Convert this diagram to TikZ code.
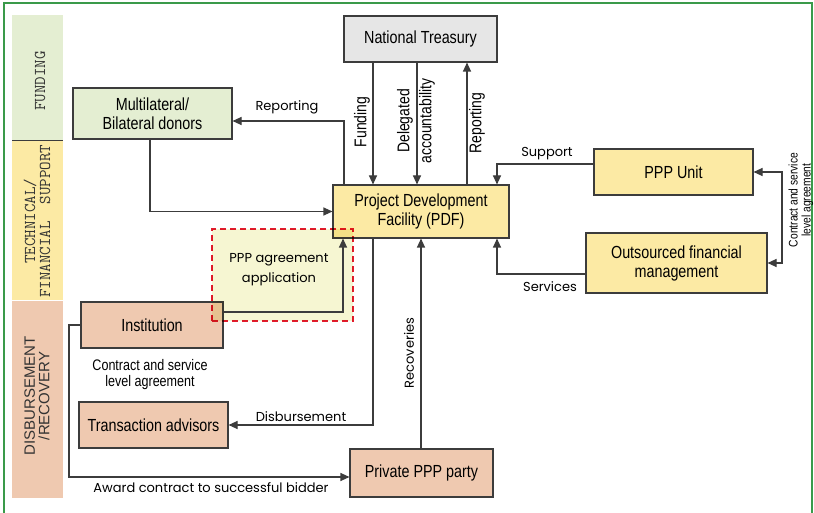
\documentclass[tikz,border=0pt]{standalone}
\usepackage{fontspec}
\usetikzlibrary{arrows.meta}
\newfontfamily\narrowfont[FakeStretch=0.82]{Liberation Sans}
\newfontfamily\plainsans{Liberation Sans}
\newfontfamily\geofont{Poppins}
\definecolor{fundfill}{HTML}{E4EED2}
\definecolor{techfill}{HTML}{FCEAA4}
\definecolor{disbfill}{HTML}{EFC9B0}
\definecolor{treasfill}{HTML}{E6E6E6}
\definecolor{apfill}{HTML}{F6F6D2}
\definecolor{edge}{HTML}{3C3C3C}
\definecolor{framegreen}{HTML}{3A9A4A}
\definecolor{dashred}{HTML}{E31B2D}
\definecolor{bandtext}{HTML}{333333}
\begin{document}
\begin{tikzpicture}[x=1pt,y=-1pt,
  box/.style={draw=edge, line width=1.1pt, align=center, inner sep=0pt,
    font=\narrowfont\fontsize{17.5}{19}\selectfont},
  arr/.style={draw=edge, line width=1.1pt, -{Triangle[length=9pt,width=8pt]}},
  biarr/.style={draw=edge, line width=1.1pt,
    {Triangle[length=9pt,width=8pt]}-{Triangle[length=9pt,width=8pt]}},
  geolbl/.style={font=\geofont\fontsize{13}{15}\selectfont, inner sep=0pt},
  vlbl/.style={font=\narrowfont\fontsize{17}{22}\selectfont, inner sep=0pt, rotate=90},
  bandlbl/.style={font=\ttfamily\fontsize{16.5}{16}\selectfont, text=bandtext, inner sep=0pt, rotate=90},
  bandsans/.style={font=\plainsans\fontsize{15}{14.5}\selectfont, text=bandtext, inner sep=0pt, rotate=90, align=center}
]
\useasboundingbox (0,0) rectangle (814,513);
\fill[white] (0,0) rectangle (814,513);
\draw[framegreen, line width=1.5pt] (4,530) -- (4,3) -- (812,3) -- (812,530);

% side bands
\fill[fundfill] (12,15) rectangle (63,141);
\fill[techfill] (12,141) rectangle (63,300);
\fill[disbfill] (12,301) rectangle (63,498);
\draw[edge, line width=1pt] (12,141) -- (63,141);
\node[bandlbl] (bandfund) at (40,81) {FUNDING};
\begin{scope}
  \clip (12,141) rectangle (63,300);
  \node[bandlbl, anchor=west] (bandtech) at (30,264) {TECHNICAL/};
  \node[bandlbl, anchor=west] (bandfin) at (45,298) {FINANCIAL\ \ SUPPORT};
\end{scope}
\node[bandsans] (banddisb) at (37,396) {DISBURSEMENT\\/RECOVERY};

% boxes
\node[box, fill=treasfill, minimum width=153pt, minimum height=46pt] (treasury) at (420.5,39) {National Treasury};
\node[box, fill=fundfill, minimum width=159pt, minimum height=51pt] (donor) at (152.5,113.5) {Multilateral/\\Bilateral donors};
\node[box, fill=techfill, minimum width=176pt, minimum height=53pt] (pdf) at (421,211.5) {Project Development\\Facility (PDF)};
\node[box, fill=techfill, minimum width=159pt, minimum height=46pt] (pppunit) at (673.5,172) {PPP Unit};
\node[box, fill=techfill, minimum width=181pt, minimum height=60pt] (outsourced) at (676.5,263) {Outsourced financial\\management};
\node[box, fill=disbfill, minimum width=142pt, minimum height=46pt] (institution) at (152,325) {Institution};
\node[box, fill=disbfill, minimum width=149pt, minimum height=46pt] (transaction) at (153.5,425) {Transaction advisors};
\node[box, fill=disbfill, minimum width=143pt, minimum height=48pt] (private) at (421.5,473) {Private PPP party};

% highlighted application area
\begin{scope}[blend mode=multiply]
  \node[draw=dashred, line width=2.8pt, dash pattern=on 6pt off 4pt, fill=apfill,
    minimum width=141pt, minimum height=92pt, inner sep=0pt] (application) at (282.5,275) {};
\end{scope}
\node[geolbl, align=center, font=\geofont\fontsize{13}{20}\selectfont] (applbl) at (279,270) {PPP agreement\\application};

% connectors
\draw[arr] (pdf.north -| 344,0) -- (344,121) -- (donor.east |- 0,121);
\draw[arr] (donor.south -| 150,0) |- (pdf.west);
\draw[arr] (treasury.south -| 373,0) -- (pdf.north -| 373,0);
\draw[arr] (treasury.south -| 417,0) -- (pdf.north -| 417,0);
\draw[arr] (pdf.north -| 467,0) -- (treasury.south -| 467,0);
\draw[arr] (pppunit.west |- 0,164) -| (pdf.north -| 497,0);
\draw[arr] (outsourced.west |- 0,274) -| (pdf.south -| 497,0);
\draw[biarr] (pppunit.east) -| (782,217) |- (outsourced.east);
\draw[arr] (pdf.south -| 373,0) |- (transaction.east);
\draw[arr] (private.north -| 421,0) -- (pdf.south -| 421,0);
\draw[arr] (institution.west) -| (69,400) |- (private.west |- 0,477);
\draw[arr] (institution.east |- 0,312) -| (pdf.south -| 343,0);

% connector labels
\node[geolbl] (lblrepdonor) at (287,107) {Reporting};
\node[vlbl] (lblfunding) at (362,122) {Funding};
\node[vlbl] (lbldelegated) at (405,121) {Delegated};
\node[vlbl] (lblaccount) at (427,121) {accountability};
\node[vlbl] (lblreptreas) at (477,123) {Reporting};
\node[geolbl] (lblsupport) at (547,154) {Support};
\node[geolbl] (lblservices) at (550,287) {Services};
\node[font=\narrowfont\fontsize{12.5}{13}\selectfont, inner sep=0pt, rotate=90, align=center] (lblslaright) at (801,200) {Contract and service\\level agreement};
\node[geolbl] (lbldisb) at (301,417) {Disbursement};
\node[geolbl, rotate=90] (lblrecov) at (409,353) {Recoveries};
\node[geolbl] (lblaward) at (211,488) {Award contract to successful bidder};
\node[font=\narrowfont\fontsize{15.3}{16}\selectfont, inner sep=0pt, align=center] (lblslaleft) at (150,375) {Contract and service\\level agreement};
\end{tikzpicture}
\end{document}
